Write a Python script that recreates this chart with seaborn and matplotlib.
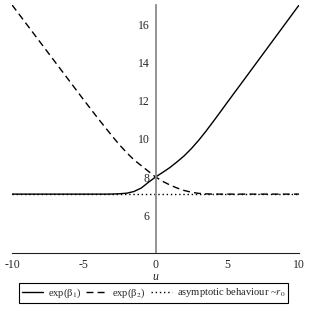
import pandas as pd
import seaborn as sns
import matplotlib.pyplot as plt
from matplotlib.ticker import MultipleLocator

# values
u_vals = [-10, -8, -6, -5, -4.5, -4, -3.5, -3, -2.5, -2, -1.5, -1, -0.5, 0,
          0.5, 1, 1.5, 2, 2.5, 3, 3.5, 4, 4.5, 5, 6, 8, 10]
beta1 = [7.1, 7.1, 7.1, 7.1, 7.1, 7.1, 7.1, 7.105, 7.12, 7.15, 7.24, 7.42, 7.72, 8.0,
         8.245, 8.5, 8.8, 9.12, 9.5, 9.93, 10.4, 10.9, 11.41, 11.93, 12.95, 15.0, 17.05]
beta2 = [17.05, 15.05, 13.05, 12.05, 11.56, 11.07, 10.6, 10.13, 9.68, 9.27, 8.9, 8.6, 8.3, 8.0,
         7.77, 7.58, 7.42, 7.29, 7.2, 7.14, 7.115, 7.1, 7.1, 7.1, 7.1, 7.1, 7.1]
asym_u = [-10, 10]
asym_r0 = [7.1, 7.1]

sns.set_style("white")
plt.rcParams['font.family'] = ['Liberation Serif', 'DejaVu Serif']
plt.rcParams['mathtext.fontset'] = 'stix'
plt.rcParams['axes.unicode_minus'] = False

fig = plt.figure(figsize=(3.09, 3.09), dpi=100)
ax = fig.add_axes([0.039, 0.181, 0.929, 0.803])

sns.lineplot(x=u_vals, y=beta1, ax=ax, color="black", lw=1.0,
             label=r"exp(β$_1$)")
sns.lineplot(x=u_vals, y=beta2, ax=ax, color="black", lw=1.0,
             linestyle=(0, (5, 3)), label=r"exp(β$_2$)")
sns.lineplot(x=asym_u, y=asym_r0, ax=ax, color="black", lw=1.0,
             linestyle=(0, (1, 2)), label=r"asymptotic behaviour ~$r_0$")

ax.set_xlim(-10, 10)
ax.set_ylim(4, 17.05)

# maple style axes: y axis through u = 0
ax.spines['top'].set_visible(False)
ax.spines['right'].set_visible(False)
ax.spines['left'].set_position(('data', 0))
ax.spines['left'].set_color('#8a8a8a')
ax.spines['left'].set_linewidth(1.3)
ax.spines['bottom'].set_color('#222222')
ax.spines['bottom'].set_linewidth(0.8)

ax.set_xticks([-10, -5, 0, 5, 10])
ax.set_yticks([6, 8, 10, 12, 14, 16])
ax.xaxis.set_minor_locator(MultipleLocator(1))
ax.yaxis.set_minor_locator(MultipleLocator(1))
ax.tick_params(axis='x', which='both', direction='in', length=2.5, width=0.6,
               color='#555555', labelsize=8.5, pad=4)
ax.tick_params(axis='y', which='both', direction='out', length=2.5, width=0.6,
               color='#8a8a8a', labelsize=8.5, pad=2)

ax.set_xlabel("u", fontstyle='italic', fontsize=8.5, labelpad=0)
ax.set_ylabel("")

ax.get_legend().remove()
fig.legend(loc='center', bbox_to_anchor=(0.497, 0.052), ncol=3, fontsize=7.6,
           frameon=True, fancybox=False, edgecolor='black', framealpha=1,
           handlelength=2.0, handletextpad=0.45, columnspacing=0.5,
           borderpad=0.3, borderaxespad=0)
leg = fig.legends[0]
leg.get_frame().set_linewidth(0.8)

fig.savefig("out.png", dpi=100)
